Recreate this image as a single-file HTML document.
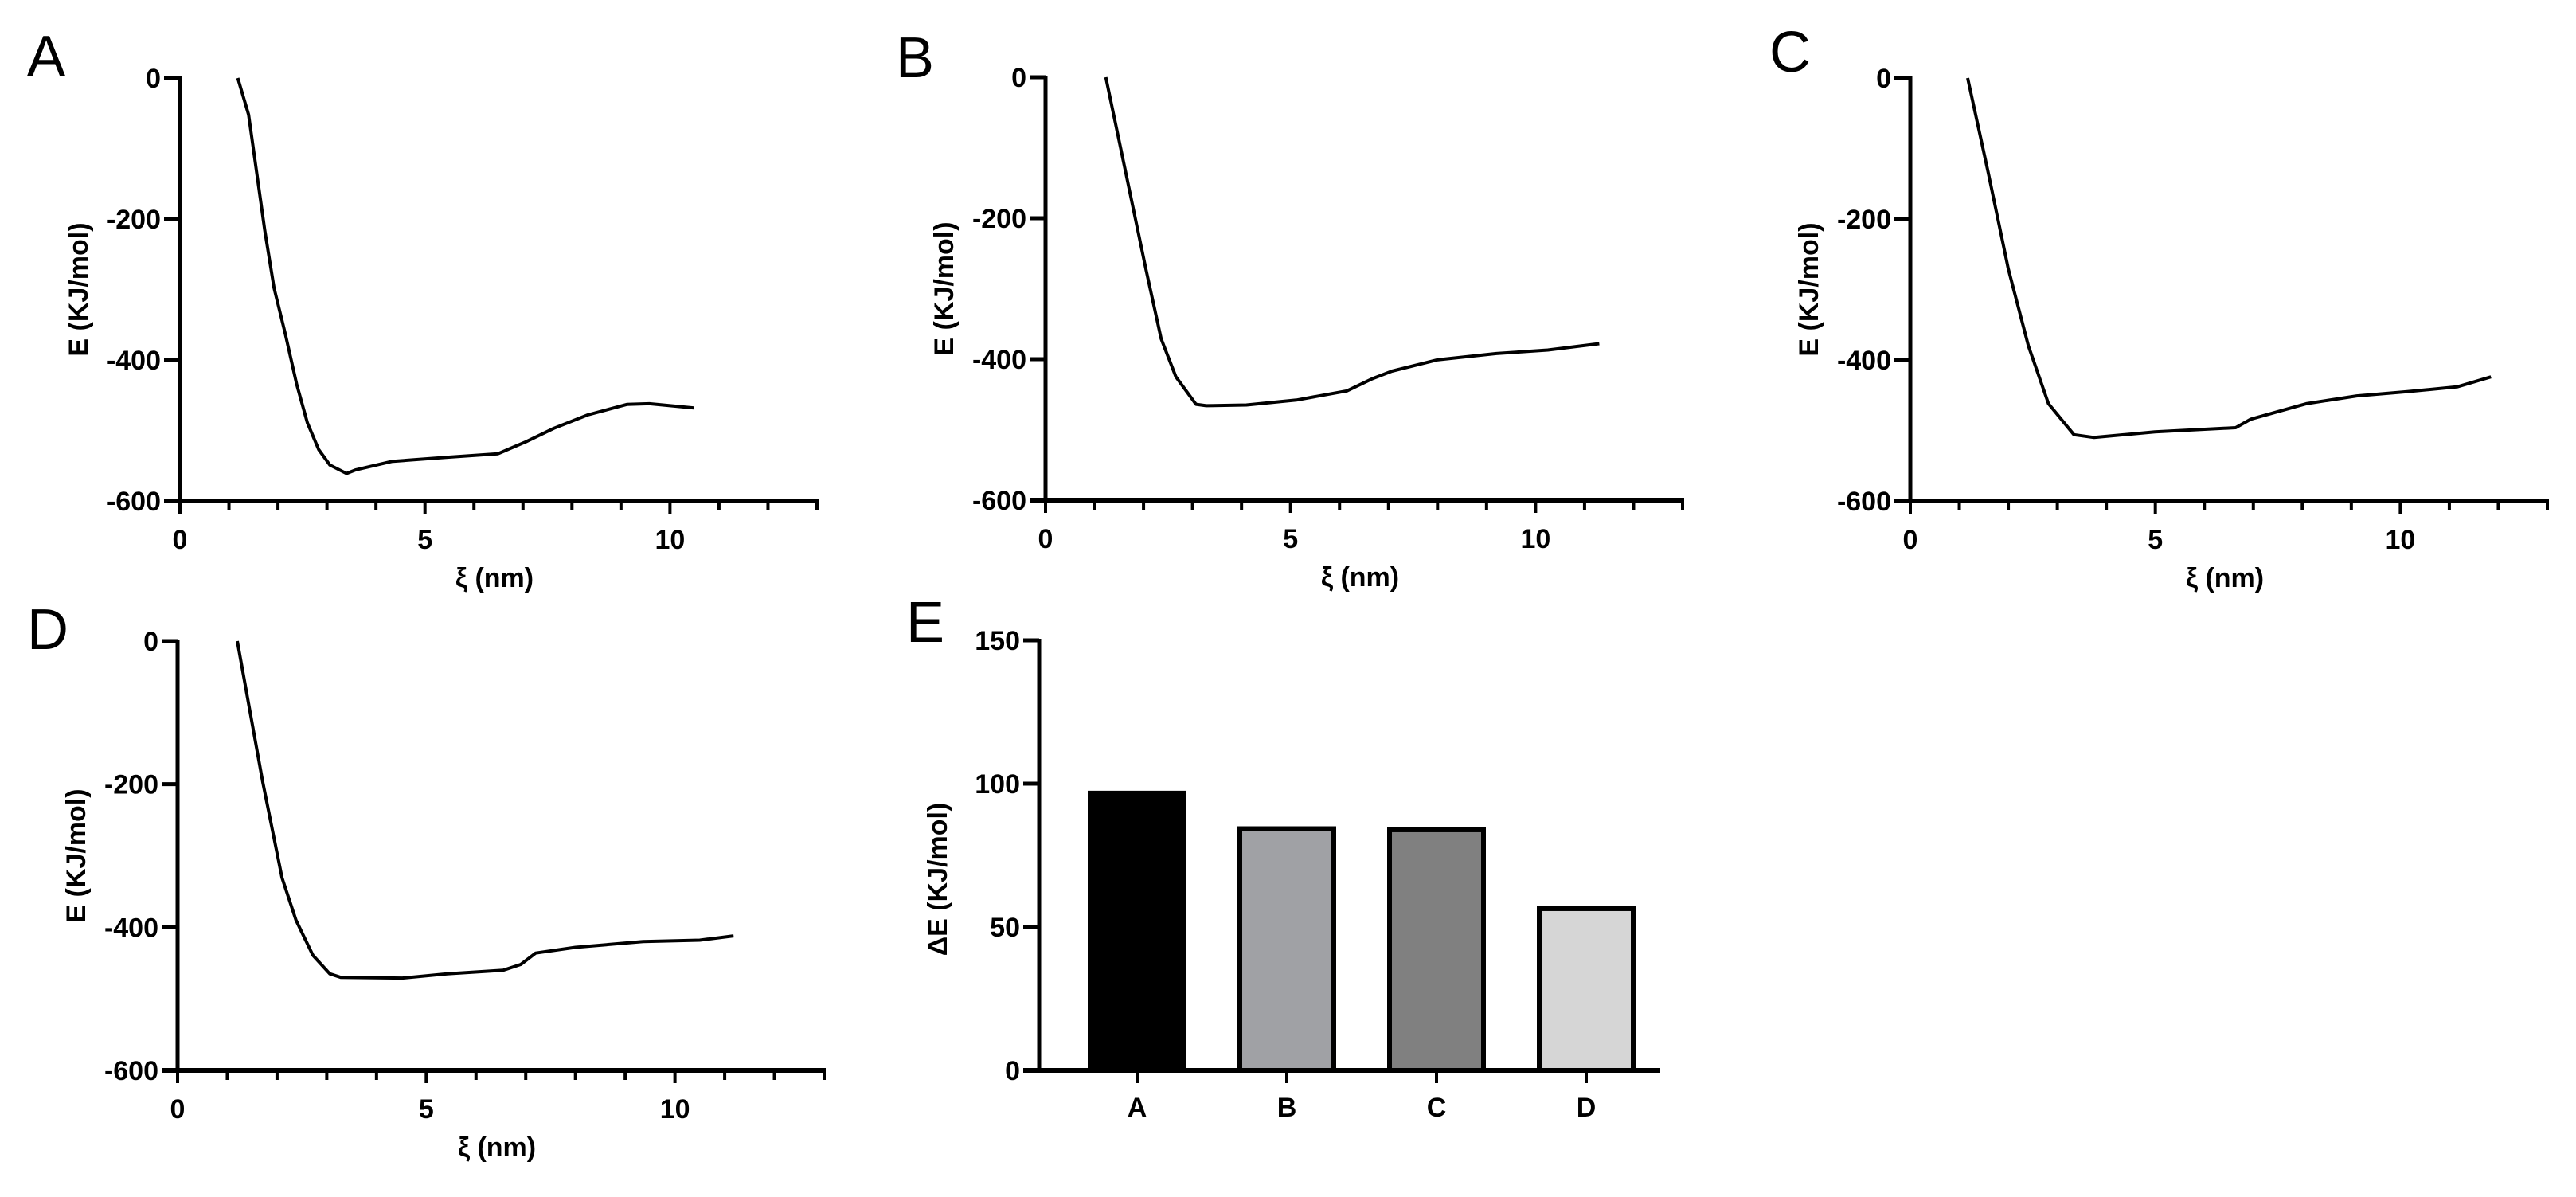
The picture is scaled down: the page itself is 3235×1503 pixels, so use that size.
<!DOCTYPE html>
<html><head><meta charset="utf-8">
<style>
html,body{margin:0;padding:0;background:#fff;}
svg{display:block;}
.tk{font-family:"Liberation Sans Narrow","Liberation Sans",sans-serif;font-weight:bold;font-size:34px;fill:#000;}
.ttl{font-family:"Liberation Sans",sans-serif;font-weight:bold;font-size:34px;fill:#000;}
.pl{font-family:"Liberation Sans",sans-serif;font-size:72px;fill:#000;}
</style></head>
<body>
<svg id="fig" width="3235" height="1503" viewBox="0 0 3235 1503" xmlns="http://www.w3.org/2000/svg">
<rect width="3235" height="1503" fill="#fff"/>
</svg>
<script>
// Curve data: x in nm, y in kJ/mol
const xA=[1.18,1.4,1.73,1.92,2.15,2.38,2.6,2.83,3.06,3.4,3.58,4.32,5.46,6.49,7.06,7.63,8.32,9.12,9.58,10.49];
const yA=[0,-52,-216,-298,-363,-434,-489,-527,-549,-561,-556,-544,-538,-533,-516,-497,-478,-463,-462,-468];
const xB=[1.23,1.64,2.05,2.36,2.66,3.07,3.28,4.1,5.12,6.15,6.66,7.07,7.99,9.2,10.25,11.3];
const yB=[0,-136,-273,-371,-425,-464,-466,-465,-458,-445,-428,-417,-401,-392,-387,-378];
const xC=[1.17,1.59,2.0,2.41,2.82,3.34,3.75,4.99,6.64,6.95,8.08,9.11,10.14,11.17,11.85];
const yC=[0,-134,-271,-380,-462,-506,-510,-502,-496,-484,-462,-451,-445,-438,-424];
const xD=[1.2,1.71,2.1,2.38,2.72,3.06,3.28,4.52,5.42,6.55,6.9,7.2,8.0,9.36,10.5,11.18];
const yD=[0,-196,-331,-390,-439,-465,-470,-471,-465,-460,-452,-436,-428,-420,-418,-412];
const xTicks=[0,5,10];
const yTicks=[0,-200,-400,-600];
// Bar chart data
const barCats=["A","B","C","D"];
const barVals=[96.7,84.3,83.9,56.4];
const barTicks=[0,50,100,150];

const NS="http://www.w3.org/2000/svg";
const svg=document.getElementById('fig');
function mk(tag,attrs,parent,text){const e=document.createElementNS(NS,tag);for(const k in attrs)e.setAttribute(k,attrs[k]);if(text!==undefined)e.textContent=text;(parent||svg).appendChild(e);return e;}

const panels=[
 {id:'a',label:'A',lx:34,ly:95,x0:226,x1:1026,y0:98,y1:629,xs:xA,ys:yA},
 {id:'b',label:'B',lx:1125,ly:97,x0:1313,x1:2113,y0:97,y1:628,xs:xB,ys:yB},
 {id:'c',label:'C',lx:2222,ly:90,x0:2399,x1:3199,y0:98,y1:629,xs:xC,ys:yC},
 {id:'d',label:'D',lx:34,ly:815,x0:223,x1:1035,y0:805,y1:1344,xs:xD,ys:yD}
];
panels.forEach(p=>{
 const g=mk('g',{});
 
 
 const sx=v=>p.x0+(p.x1-p.x0)*v/13;
 const sy=v=>p.y0+(p.y1-p.y0)*(v/-600);
 const L=mk('text',{x:p.lx,y:p.ly,class:'pl'},g,p.label);
 
 
 const ya=mk('line',{x1:p.x0,y1:p.y0-2,x2:p.x0,y2:p.y1,stroke:'#000','stroke-width':5},g);
 
 
 yTicks.forEach(t=>{
  mk('line',{x1:p.x0-20,y1:sy(t),x2:p.x0,y2:sy(t),stroke:'#000','stroke-width':5},g);
  const tl=mk('text',{x:p.x0-24,y:sy(t)+12,class:'tk','text-anchor':'end'},g,String(t));
  
  
 });
 const xa=mk('line',{x1:p.x0-20,y1:p.y1,x2:p.x1+2,y2:p.y1,stroke:'#000','stroke-width':6},g);
 
 
 for(let i=0;i<=13;i++){
  const len=(i%5===0)?16:12;
  mk('line',{x1:sx(i),y1:p.y1,x2:sx(i),y2:p.y1+len,stroke:'#000','stroke-width':4},g);
 }
 xTicks.forEach(t=>{
  const tl=mk('text',{x:sx(t),y:p.y1+60,class:'tk','text-anchor':'middle'},g,String(t));
  
  
 });
 const xt=mk('text',{x:(p.x0+p.x1)/2-5,y:p.y1+108,class:'ttl','text-anchor':'middle'},g,'ξ (nm)');
 
 
 const cy=(p.y0+p.y1)/2;
 const yt=mk('text',{x:p.x0-116,y:cy,class:'ttl','text-anchor':'middle',transform:`rotate(-90 ${p.x0-116} ${cy})`},g,'E (KJ/mol)');
 
 
 const d=p.xs.map((v,i)=>(i?'L':'M')+sx(v).toFixed(1)+' '+sy(p.ys[i]).toFixed(1)).join(' ');
 const ln=mk('path',{d:d,fill:'none',stroke:'#000','stroke-width':4,'stroke-linejoin':'round'},g);
 
 
});

(function(){
 const g=mk('g',{});
 
 
 const x0=1305,x1=2085,y0=804,y1=1344;
 const sy=v=>y1-(y1-y0)*v/150;
 const cx=i=>1428+188*i;
 const colors=['#000000','#a0a1a5','#808080','#d6d6d6'];
 const L=mk('text',{x:1138,y:806,class:'pl'},g,'E');
 
 
 barVals.forEach((v,i)=>{
  const r=mk('rect',{x:cx(i)-59,y:sy(v),width:118,height:y1-sy(v),fill:colors[i],stroke:'#000','stroke-width':6},g);
  
  
 });
 const ya=mk('line',{x1:x0,y1:y0-2,x2:x0,y2:y1,stroke:'#000','stroke-width':5},g);
 
 
 barTicks.forEach(t=>{
  mk('line',{x1:x0-20,y1:sy(t),x2:x0,y2:sy(t),stroke:'#000','stroke-width':5},g);
  const tl=mk('text',{x:x0-24,y:sy(t)+12,class:'tk','text-anchor':'end'},g,String(t));
  
  
 });
 const xa=mk('line',{x1:x0-20,y1:y1,x2:x1,y2:y1,stroke:'#000','stroke-width':6},g);
 
 
 barCats.forEach((c,i)=>{
  mk('line',{x1:cx(i),y1:y1,x2:cx(i),y2:y1+16,stroke:'#000','stroke-width':4},g);
  const tl=mk('text',{x:cx(i),y:y1+58,class:'tk','text-anchor':'middle'},g,c);
  
  
 });
 const cy=(y0+y1)/2+30;
 const yt=mk('text',{x:x0-116,y:cy,class:'ttl','text-anchor':'middle',transform:`rotate(-90 ${x0-116} ${cy})`},g,'ΔE (KJ/mol)');
 
 
})();
</script>
</body></html>
